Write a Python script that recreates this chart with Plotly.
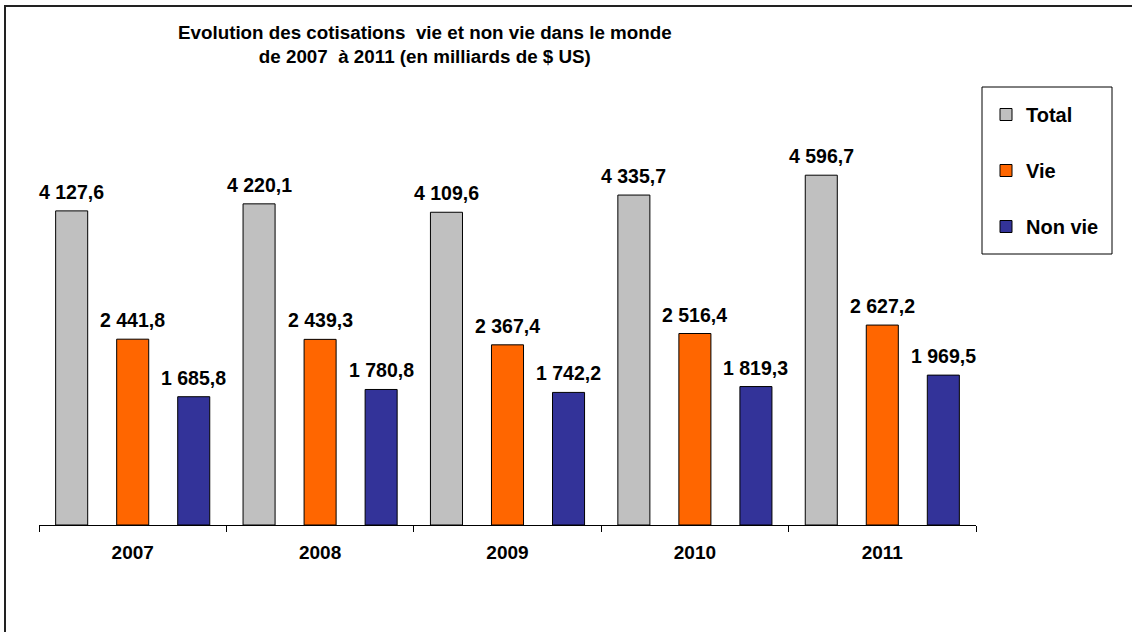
import plotly.graph_objects as go

years = ["2007", "2008", "2009", "2010", "2011"]
total = [4127.6, 4220.1, 4109.6, 4335.7, 4596.7]
vie = [2441.8, 2439.3, 2367.4, 2516.4, 2627.2]
non_vie = [1685.8, 1780.8, 1742.2, 1819.3, 1969.5]

series_names = ["Total", "Vie", "Non vie"]
series_values = [total, vie, non_vie]
series_colors = ["#C0C0C0", "#FF6600", "#333399"]

FONT = "Arial, Liberation Sans, sans-serif"
W, H = 1132, 632
OFF = 0  # page body margin removed below
PL, PR, PB, PT = 39 - OFF, 976 - OFF, 525 - OFF, 100 - OFF
ML, MR, MT, MB = PL, W - PR, PT, H - PB
PW, PH = PR - PL, PB - PT


def px(x):
    return (x - OFF - PL) / PW


def py(y):
    return (PB - (y - OFF)) / PH


def fmt(v):
    s = f"{v:,.1f}"
    return s.replace(",", " ").replace(".", ",")


fig = go.Figure()
for name, vals, col in zip(series_names, series_values, series_colors):
    fig.add_trace(go.Bar(
        x=years, y=vals, name=name, legendgroup=name,
        marker=dict(color=col, line=dict(color="black", width=1)),
    ))

annotations = []
offsets = [-61, 0, 61]
for vals, off in zip(series_values, offsets):
    for i, v in enumerate(vals):
        annotations.append(dict(
            x=i, y=v, xref="x", yref="y", text="<b>" + fmt(v) + "</b>", showarrow=False,
            xshift=off, yshift=6, yanchor="bottom",
            font=dict(family=FONT, size=19.5, color="black"),
        ))

annotations.append(dict(
    x=px(425), y=py(44.5), xref="paper", yref="paper",
    text="<b>Evolution des cotisations  vie et non vie dans le monde<br>de 2007  à 2011 (en milliards de $ US)</b>",
    showarrow=False, xanchor="center", yanchor="middle",
    font=dict(family=FONT, size=18.8, color="black"),
))

fig.update_layout(
    width=W, height=H,
    margin=dict(l=ML, r=MR, t=MT, b=MB),
    paper_bgcolor="white", plot_bgcolor="white",
    barmode="group", bargap=0.023, bargroupgap=0.475,
    font=dict(family=FONT, color="black"),
    annotations=annotations,
    xaxis=dict(
        type="category", range=[-0.5, 4.5], showline=True, linecolor="black", linewidth=1,
        ticks="outside", tickson="boundaries", ticklen=6, tickcolor="black",
        showgrid=False, ticklabelstandoff=10,
        tickfont=dict(family=FONT, size=19, color="black", weight="bold"),
    ),
    yaxis=dict(range=[0, PH / 0.0761], visible=False, showgrid=False),
    legend=dict(
        x=px(986), y=py(95), xanchor="left", yanchor="top",
        borderwidth=0, bgcolor="rgba(0,0,0,0)",
        font=dict(family=FONT, size=20, color="black", weight="bold"),
        tracegroupgap=27, itemwidth=30,
    ),
    shapes=[
        dict(
            type="rect", xref="paper", yref="paper",
            x0=px(5), x1=px(W + 30), y0=py(H + 30), y1=py(6),
            line=dict(color="#222222", width=2), fillcolor="rgba(0,0,0,0)", layer="below",
        ),
        dict(
            type="rect", xref="paper", yref="paper",
            x0=px(982), x1=px(1112), y0=py(254), y1=py(87),
            line=dict(color="black", width=1), fillcolor="white", layer="below",
        ),
    ],
)

fig.write_html("out.html", config={"displayModeBar": False},
               post_script="document.body.style.margin='0px';")
